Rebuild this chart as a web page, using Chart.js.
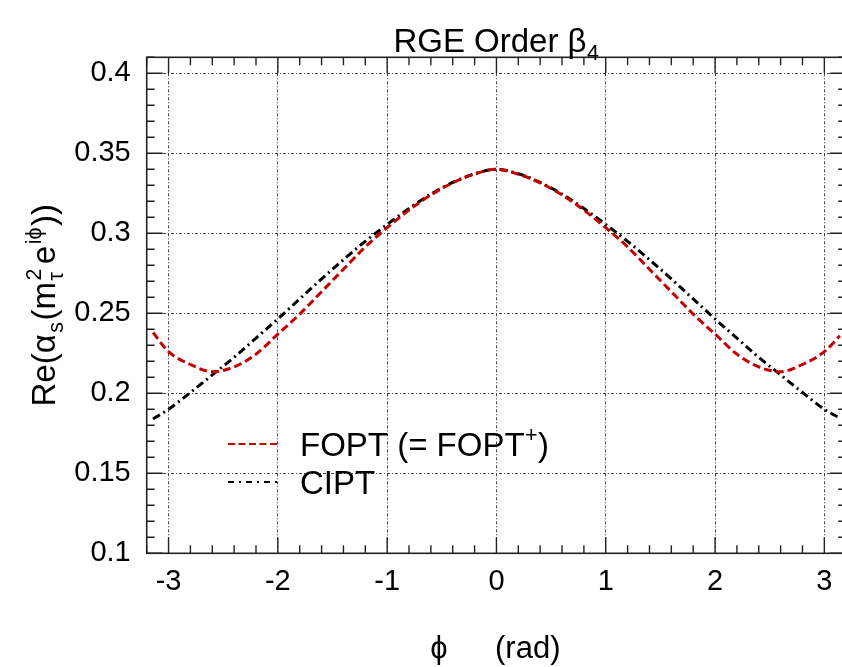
<!DOCTYPE html>
<html><head><meta charset="utf-8">
<script src="https://cdn.jsdelivr.net/npm/chart.js@4/dist/chart.umd.min.js"></script>
<style>html,body{margin:0;padding:0;background:#fff;overflow:hidden}canvas{display:block}</style>
</head><body>
<canvas id="c" width="880" height="667"></canvas>
<script>
// ---- data ----
const phi  = [-3.1416,-3.0,-2.8,-2.6,-2.4,-2.2,-2.0,-1.8,-1.6,-1.4,-1.2,-1.0,-0.8,-0.6,-0.4,-0.2,0,
               0.2,0.4,0.6,0.8,1.0,1.2,1.4,1.6,1.8,2.0,2.2,2.4,2.6,2.8,3.0,3.1416];
const fopt = [0.238,0.226,0.218,0.2135,0.2165,0.2245,0.2370,0.2495,0.2635,0.2775,0.2915,0.3035,0.3145,0.3240,0.3315,0.3370,0.3400,
              0.3370,0.3315,0.3240,0.3145,0.3035,0.2915,0.2775,0.2635,0.2495,0.2370,0.2245,0.2165,0.2135,0.218,0.226,0.236];
const cipt = [0.184,0.190,0.2005,0.2115,0.2225,0.2345,0.2465,0.2590,0.2715,0.2835,0.2950,0.3055,0.3155,0.3245,0.3318,0.3372,0.3400,
              0.3372,0.3318,0.3245,0.3155,0.3055,0.2950,0.2835,0.2715,0.2590,0.2465,0.2345,0.2225,0.2115,0.2005,0.190,0.1845];
const xTicks = [-3,-2,-1,0,1,2,3];
const xTickLabels = ['-3','-2','-1','0','1','2','3'];
const yTicks = [0.1,0.15,0.2,0.25,0.3,0.35,0.4];
const yTickLabels = ['0.1','0.15','0.2','0.25','0.3','0.35','0.4'];
const seriesNames = ['FOPT (= FOPT', 'CIPT'];

const FAM = '"Liberation Sans", Arial, Helvetica, sans-serif';
const RED = '#c40000';

function richWidth(ctx, segs, size){
  let w = 0;
  for (const s of segs){
    if (s.t !== undefined){ ctx.font = size+'px '+FAM; w += ctx.measureText(s.t).width + (s.gap||0); }
    else {
      ctx.font = (size*0.65)+'px '+FAM;
      w += Math.max(s.sup?ctx.measureText(s.sup).width:0, s.sub?ctx.measureText(s.sub).width:0) + (s.gap||1);
    }
  }
  return w;
}
function richDraw(ctx, segs, x, y, size, align){
  let cx = x;
  if (align === 'center') cx = x - richWidth(ctx, segs, size)/2;
  ctx.textBaseline = 'alphabetic'; ctx.textAlign = 'left';
  for (const s of segs){
    if (s.t !== undefined){ ctx.font = size+'px '+FAM; ctx.fillText(s.t, cx, y); cx += ctx.measureText(s.t).width + (s.gap||0); }
    else {
      const fs = size*0.65; ctx.font = fs+'px '+FAM;
      let w = 0;
      if (s.sup){ ctx.fillText(s.sup, cx+0.5, y - size*0.42); w = Math.max(w, ctx.measureText(s.sup).width); }
      if (s.sub){ ctx.fillText(s.sub, cx+0.5, y + size*0.25); w = Math.max(w, ctx.measureText(s.sub).width); }
      cx += w + (s.gap||1);
    }
  }
}

const decor = {
  id: 'decor',
  afterDraw(chart){
    const ctx = chart.ctx, xs = chart.scales.x, ys = chart.scales.y;
    const L = chart.chartArea.left, R = chart.chartArea.right, T = chart.chartArea.top, B = chart.chartArea.bottom;
    ctx.save();
    // frame
    ctx.strokeStyle = '#222'; ctx.lineWidth = 1.6; ctx.setLineDash([]);
    ctx.strokeRect(L, T, R-L, B-T);
    // ticks
    ctx.lineWidth = 1.4;
    ctx.beginPath();
    for (let k = -16; k <= 16; k++){
      const v = k*0.2, px = xs.getPixelForValue(v);
      const len = (k % 5 === 0) ? 16 : 8;
      ctx.moveTo(px, B); ctx.lineTo(px, B-len);
      ctx.moveTo(px, T); ctx.lineTo(px, T+len);
    }
    for (let k = 10; k <= 41; k++){
      const v = k*0.01, py = ys.getPixelForValue(v);
      const len = (k % 5 === 0) ? 16 : 8;
      ctx.moveTo(L, py); ctx.lineTo(L+len, py);
      ctx.moveTo(R, py); ctx.lineTo(R-len, py);
    }
    ctx.stroke();
    ctx.fillStyle = '#000';
    // title
    richDraw(ctx, [{t:'RGE Order β'},{sub:'4'}], (L+R)/2, 52, 33, 'center');
    // x title
    ctx.font = '31px '+FAM; ctx.textAlign = 'center'; ctx.textBaseline = 'alphabetic';
    ctx.fillText('ϕ', 439, 658);
    ctx.textAlign = 'left';
    ctx.fillText('(rad)', 495, 658);
    // y title (centred on the plot height)
    ctx.save();
    ctx.translate(55, (T+B)/2); ctx.rotate(-Math.PI/2);
    richDraw(ctx, [{t:'Re(α', gap:1},{sub:'s', gap:2},{t:'(m', gap:1},{sup:'2',sub:'τ', gap:5},{t:'e', gap:1},{sup:'iϕ', gap:2},{t:'))'}], 0, 0, 33, 'center');
    ctx.restore();
    // legend
    const items = [
      {y: 444, color: RED, dash: [7,3.5], segs: [{t:seriesNames[0]},{sup:'+'},{t:')'}]},
      {y: 482, color: '#000', dash: [6,5,2,5], segs: [{t:seriesNames[1]}]}
    ];
    for (const it of items){
      ctx.strokeStyle = it.color; ctx.lineWidth = 2; ctx.setLineDash(it.dash);
      ctx.beginPath(); ctx.moveTo(228, it.y); ctx.lineTo(280, it.y); ctx.stroke();
      ctx.setLineDash([]);
      ctx.fillStyle = '#000';
      richDraw(ctx, it.segs, 300, it.y + 12, 33, 'left');
    }
    ctx.restore();
  }
};

new Chart(document.getElementById('c'), {
  type: 'line',
  data: {
    datasets: [
      { label: seriesNames[0], data: phi.map((p,i)=>({x:p, y:fopt[i]})), borderColor: RED, borderWidth: 3,
        borderDash: [8,4], pointRadius: 0, cubicInterpolationMode: 'monotone', fill: false },
      { label: seriesNames[1], data: phi.map((p,i)=>({x:p, y:cipt[i]})), borderColor: '#000', borderWidth: 3,
        borderDash: [8,4,2,4], pointRadius: 0, cubicInterpolationMode: 'monotone', fill: false }
    ]
  },
  options: {
    responsive: false, animation: false, devicePixelRatio: 1,
    layout: { padding: { left: 0, top: 57.3, right: 33.8, bottom: 0 } },
    plugins: { legend: { display: false }, title: { display: false }, tooltip: { enabled: false } },
    scales: {
      x: { type: 'linear', min: -3.2, max: 3.2,
           afterBuildTicks: s => { s.ticks = xTicks.map(v => ({value: v})); },
           afterFit: s => { s.height = 113.7; },
           ticks: { autoSkip: false, padding: 11, color: '#000', font: { family: FAM, size: 29 },
                    callback: (v, i) => xTickLabels[i] },
           grid: { drawTicks: false, color: '#444', lineWidth: 1 },
           border: { display: false, dash: [3,2,1,2] } },
      y: { type: 'linear', min: 0.1, max: 0.41,
           afterBuildTicks: s => { s.ticks = yTicks.map(v => ({value: v})); },
           afterFit: s => { s.width = 146.7; },
           ticks: { autoSkip: false, padding: 16, color: '#000', font: { family: FAM, size: 29 },
                    callback: (v, i) => yTickLabels[i] },
           grid: { drawTicks: false, color: '#444', lineWidth: 1 },
           border: { display: false, dash: [3,2,1,2] } }
    }
  },
  plugins: [decor]
});
</script>
</body></html>
